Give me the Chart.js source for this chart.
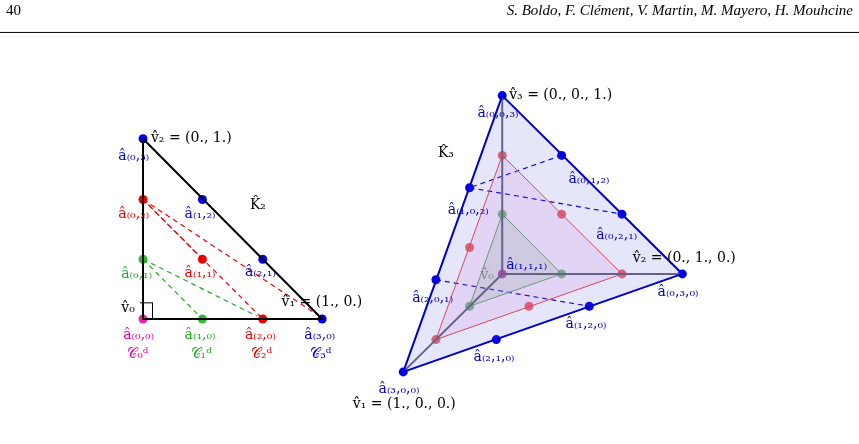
<!DOCTYPE html>
<html><head><meta charset="utf-8">
<script src="https://cdn.jsdelivr.net/npm/chart.js@4"></script>
<style>html,body{margin:0;background:#fff}#wrap{width:859px;height:444px}</style>
</head><body><div id="wrap"><canvas id="c"></canvas></div>
<script>
// picture coordinates (x right, y down)
var triOutline = [[140,137],[140,321],[321,321],[140,137]];
var triBlue = [[140,137],[200,199],[261,260],[321,321]];
var triRed = [[140,199],[200,260],[261,321]];
var triGreen = [[140,260],[200,321]];
var triMagenta = [[140,321]];
var triRedArrows = [[[140,199],[261,321]],[[140,199],[318,318]],[[200,260],[140,199]]];
var triGreenArrows = [[[140,260],[200,321]],[[140,260],[255,318]]];

var tetFace = [[503,93],[403,375],[685,275],[503,93]];
var tetHidden = [[503,93],[503,275],[403,375],[503,275],[685,275]];
var tetBlue = [[503,93],[470,187],[436,281],[403,375],[563,154],[624,214],[685,275],[497,342],[591,308]];
var tetRedTri = [[503,154],[436,342],[624,275],[503,154]];
var tetRed = [[503,154],[436,342],[624,275],[470,248],[530,308],[563,214]];
var tetGreenTri = [[503,214],[470,308],[563,275],[503,214]];
var tetGreen = [[503,214],[470,308],[563,275]];
var tetMagenta = [[503,275]];
var tetDashed = [[[470,187],[624,214]],[[436,281],[591,308]],[[563,154],[470,187]]];

var labels = [
  ['v̂₂ = (0., 1.)',148,137,'#000','left'],['â₍₀,₃₎',115,155,'#00c','left'],
  ['â₍₁,₂₎',182,214,'#00c','left'],['â₍₂,₁₎',243,273,'#00c','left'],['K̂₂',248,205,'#000','left'],
  ['â₍₀,₂₎',115,214,'#e00','left'],['â₍₁,₁₎',182,274,'#e00','left'],['â₍₀,₁₎',118,275,'#2a2','left'],
  ['v̂₀',118,310,'#000','left'],['v̂₁ = (1., 0.)',280,304,'#000','left'],
  ['â₍₀,₀₎',120,338,'#e0a','left'],['𝒞₀ᵈ',124,357,'#e0a','left'],
  ['â₍₁,₀₎',182,338,'#2a2','left'],['𝒞₁ᵈ',188,357,'#2a2','left'],
  ['â₍₂,₀₎',243,338,'#e00','left'],['𝒞₂ᵈ',249,357,'#e00','left'],
  ['â₍₃,₀₎',303,338,'#00c','left'],['𝒞₃ᵈ',309,357,'#00c','left'],
  ['v̂₃ = (0., 0., 1.)',510,93,'#000','left'],['â₍₀,₀,₃₎',478,111,'#00c','left'],['K̂₃',438,152,'#000','left'],
  ['â₍₀,₁,₂₎',570,178,'#00c','left'],['â₍₁,₀,₂₎',448,210,'#00c','left'],['â₍₀,₂,₁₎',598,236,'#00c','left'],
  ['v̂₂ = (0., 1., 0.)',635,259,'#000','left'],['â₍₁,₁,₁₎',507,266,'#00c','left'],['v̂₀',481,276,'#888','left'],
  ['â₍₀,₃,₀₎',660,294,'#00c','left'],['â₍₂,₀,₁₎',412,300,'#00c','left'],['â₍₁,₂,₀₎',567,326,'#00c','left'],
  ['â₍₂,₁,₀₎',474,360,'#00c','left'],['â₍₃,₀,₀₎',378,393,'#00c','left'],['v̂₁ = (1., 0., 0.)',352,408,'#000','left']
];

function pts(a){return a.map(function(p){return {x:p[0],y:p[1]};});}
var ds = [];
function line(a,color,w,dash,fill,bg){ds.push({data:pts(a),showLine:true,borderColor:color,borderWidth:w,borderDash:dash||[],pointRadius:0,fill:fill||false,backgroundColor:bg||'transparent'});}
function dots(a,color){ds.push({data:pts(a),showLine:false,pointRadius:4.5,backgroundColor:color,borderWidth:0});}

line(tetFace,'#00c',2,[],'shape','rgba(90,90,230,0.15)');
line(tetHidden,'#667',2,[]);
line(tetRedTri,'#e44',1,[],'shape','rgba(220,80,200,0.12)');
line(tetGreenTri,'#6a6',1,[],'shape','rgba(120,180,120,0.2)');
tetDashed.forEach(function(s){line(s,'#00c',1.2,[5,4]);});
line(triOutline,'#000',2,[]);
line([[140,137],[321,321]],'#00c',1.2,[5,4]);
triRedArrows.forEach(function(s){line(s,'#e00',1.2,[5,4]);});
triGreenArrows.forEach(function(s){line(s,'#2a2',1.2,[5,4]);});
line([[140,321],[200,321]],'#e0a',1.2,[5,4]);
dots(triBlue,'#00e');dots(triRed,'#e00');dots(triGreen,'#3b3');dots(triMagenta,'#e2a');
dots(tetBlue,'#00e');dots(tetRed,'rgba(240,60,60,0.8)');dots(tetGreen,'rgba(80,180,80,0.8)');dots(tetMagenta,'#d3a');

var textPlugin = {id:'txt',afterDraw:function(ch){
  var c=ch.ctx,sx=ch.scales.x,sy=ch.scales.y;
  c.save();c.textBaseline='middle';
  labels.forEach(function(l){c.fillStyle=l[3];c.textAlign=l[4];c.font='14px "DejaVu Serif"';c.fillText(l[0],sx.getPixelForValue(l[1]),sy.getPixelForValue(l[2]));});
  c.fillStyle='#000';c.font='15px "Liberation Serif"';c.textAlign='left';c.fillText('40',6,11);
  c.font='italic 15px "Liberation Serif"';c.textAlign='right';c.fillText('S. Boldo, F. Clément, V. Martin, M. Mayero, H. Mouhcine',853,11);
  c.fillRect(0,sy.getPixelForValue(28),859,1);
  c.fillRect(140,sy.getPixelForValue(304),12,1);c.fillRect(152,sy.getPixelForValue(304),1,17);
  c.restore();
}};

new Chart(document.getElementById('c'),{type:'scatter',data:{datasets:ds},
  options:{responsive:true,maintainAspectRatio:false,animation:false,
    layout:{padding:0},
    plugins:{legend:{display:false},tooltip:{enabled:false}},
    scales:{x:{type:'linear',min:0,max:859,display:false},y:{type:'linear',min:0,max:444,reverse:true,display:false}}},
  plugins:[textPlugin]});
</script></body></html>
